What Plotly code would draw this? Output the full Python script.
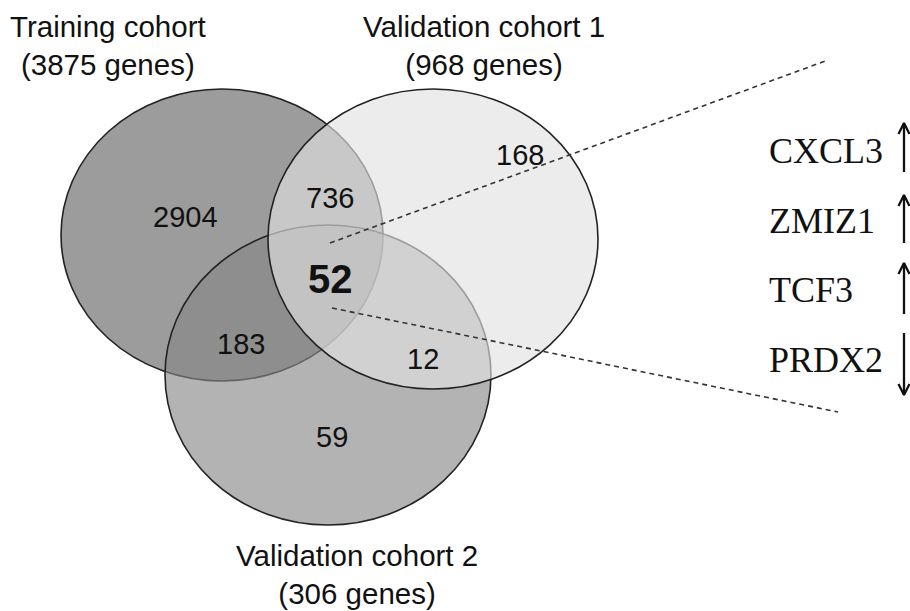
import plotly.graph_objects as go

# ---- data ----
set_names = ["Training cohort", "Validation cohort 1", "Validation cohort 2"]
set_sizes = [3875, 968, 306]
region_names = ["Training only", "Training & Val1", "Val1 only", "All three",
                "Training & Val2", "Val1 & Val2", "Val2 only"]
region_counts = [2904, 736, 168, 52, 183, 12, 59]
genes = ["CXCL3", "ZMIZ1", "TCF3", "PRDX2"]
directions = ["up", "up", "up", "down"]

# ---- layout geometry (page-pixel coordinates) ----
W, H = 910, 611
ellipses = {  # cx, cy, rx, ry
    "A": (222, 235, 161, 146),
    "B": (433, 239, 165, 150),
    "C": (328, 375, 163, 150),
}
set_label_pos = [(108, 45), (484, 45), (357, 574)]
region_pos = [(185, 217), (330, 198), (520, 155), (330, 279),
              (241, 344), (423, 359), (332, 437)]
gene_x = 767
gene_y = [151, 221, 290, 360]
arrow_x = 904
arrow_spans = [(123, 172), (195, 243), (263, 314), (333, 395)]

fig = go.Figure()
fig.add_trace(go.Scatter(x=[0, W], y=[0, H], mode="markers",
                         marker=dict(opacity=0), hoverinfo="skip", showlegend=False))

def ell(key, fill, line):
    cx, cy, rx, ry = ellipses[key]
    return dict(type="circle", xref="x", yref="y", x0=cx - rx, x1=cx + rx,
                y0=cy - ry, y1=cy + ry, fillcolor=fill,
                line=dict(color=line, width=1.6 if line != "rgba(0,0,0,0)" else 0),
                layer="below")

shapes = [
    ell("A", "rgb(156,156,156)", "#222"),
    ell("C", "rgba(134,134,134,0.63)", "#222"),
    ell("B", "rgba(226,226,226,0.64)", "rgba(0,0,0,0)"),
]
cx, cy, rx, ry = ellipses["B"]
shapes.append(dict(type="circle", xref="x", yref="y", x0=cx - rx, x1=cx + rx,
                   y0=cy - ry, y1=cy + ry, fillcolor="rgba(0,0,0,0)",
                   line=dict(color="#222", width=1.6), layer="below"))
# dashed connector lines
shapes.append(dict(type="line", xref="x", yref="y", x0=330, y0=243, x1=828, y1=60,
                   line=dict(color="#333", width=1.6, dash="5px,4px"), layer="above"))
shapes.append(dict(type="line", xref="x", yref="y", x0=332, y0=308, x1=838, y1=412,
                   line=dict(color="#333", width=1.6, dash="5px,4px"), layer="above"))

# arrows (shaft + open chevron head)
for (top, bot), d in zip(arrow_spans, directions):
    if d == "up":
        head, tail, sgn = top, bot, 1
    else:
        head, tail, sgn = bot, top, -1
    xs = [arrow_x, arrow_x, None, arrow_x - 5.5, arrow_x, arrow_x + 5.5]
    ys = [tail, head, None, head + sgn * 11, head, head + sgn * 11]
    fig.add_trace(go.Scatter(x=xs, y=ys, mode="lines", line=dict(color="#111", width=2.3),
                             hoverinfo="skip", showlegend=False))

annotations = []
sans = "Liberation Sans, Arial, sans-serif"
serif = "Liberation Serif, Times New Roman, serif"
for (x, y), name, size in zip(set_label_pos, set_names, set_sizes):
    annotations.append(dict(x=x, y=y, xref="x", yref="y", showarrow=False,
                            text=f"{name}<br>({size} genes)",
                            font=dict(family=sans, size=29.5, color="#111")))
for (x, y), n in zip(region_pos, region_counts):
    bold = n == 52
    annotations.append(dict(x=x, y=y, xref="x", yref="y", showarrow=False,
                            text=f"<b>{n}</b>" if bold else str(n),
                            font=dict(family=sans, size=40 if bold else 29, color="#111")))
for g, y in zip(genes, gene_y):
    annotations.append(dict(x=gene_x, y=y, xref="x", yref="y", showarrow=False,
                            xanchor="left", text=g,
                            font=dict(family=serif, size=36, color="#111")))

fig.update_layout(
    width=W, height=H, margin=dict(l=0, r=0, t=0, b=0),
    paper_bgcolor="white", plot_bgcolor="white",
    xaxis=dict(range=[0, W], visible=False, fixedrange=True),
    yaxis=dict(range=[H, 0], visible=False, fixedrange=True),
    shapes=shapes, annotations=annotations, showlegend=False,
)
fig.write_html("out.html", config={"displayModeBar": False},
               post_script="document.body.style.margin='0';document.body.style.overflow='hidden';")
